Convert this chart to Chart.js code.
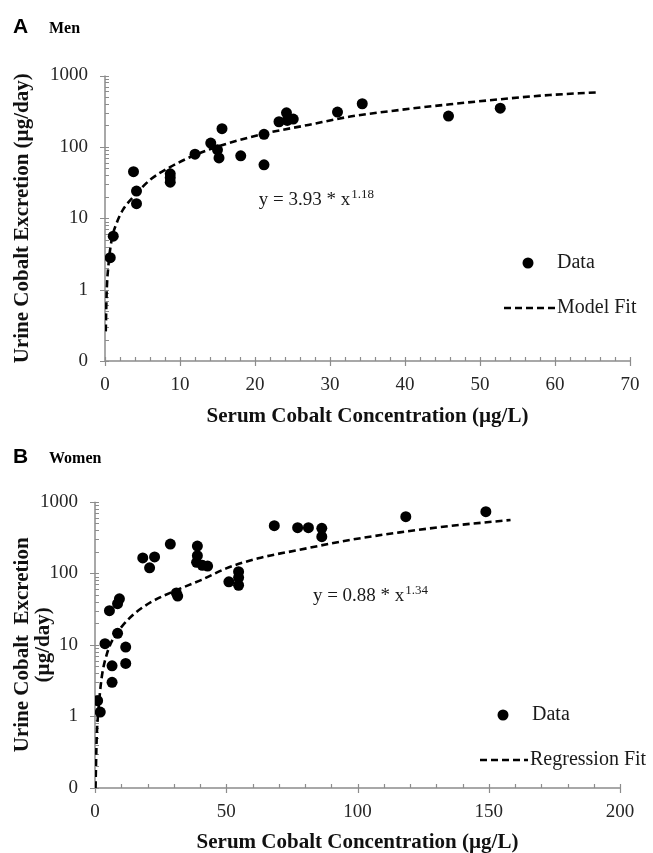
<!DOCTYPE html>
<html>
<head>
<meta charset="utf-8">
<script src="https://cdn.jsdelivr.net/npm/chart.js@4.4.0/dist/chart.umd.min.js"></script>
<style>
  html, body { margin: 0; padding: 0; background: #fff; }
  .panel { position: absolute; left: 0; width: 653px; }
  #panelA { top: 0; height: 430px; }
  #panelB { top: 430px; height: 426px; }
</style>
</head>
<body>
<div class="panel" id="panelA"><canvas id="chartA"></canvas></div>
<div class="panel" id="panelB"><canvas id="chartB"></canvas></div>
<script>
// values
const menX = [0.7, 1.1, 3.8, 4.2, 4.2, 8.7, 8.7, 8.7, 12.0, 14.1, 15.0, 15.2, 15.6, 18.1, 21.2, 21.2, 23.2, 24.2, 24.3, 25.1, 31.0, 34.3, 45.8, 52.7]
const menY = [2.8, 5.6, 45, 24, 16, 42, 37, 32, 79, 113, 91, 70, 180, 75, 56, 150, 225, 300, 235, 245, 307, 402, 270, 349]
const menFitX = [0.1, 0.22, 0.44, 0.89, 1.56, 2.4, 3.8, 6, 8.67, 12, 15.8, 21.1, 27.1, 32.7, 39.3, 46, 52.7, 59.3, 65.8]
const menFitY = [0.26, 0.9, 2.1, 5.0, 8.6, 13.2, 20, 34.5, 52, 77, 107, 152, 203, 266, 329, 395, 465, 533, 582]

const womenX = [1.0, 2.0, 3.8, 5.5, 6.5, 6.5, 8.6, 9.3, 8.6, 11.7, 11.7, 18.2, 20.8, 22.7, 28.7, 31.0, 31.5, 39.0, 39.0, 38.7, 40.9, 42.9, 51.0, 54.7, 54.7, 54.7, 68.3, 77.2, 81.3, 86.4, 86.4, 118.4, 148.9]
const womenY = [1.66, 1.15, 10.4, 30, 5.1, 3.0, 37.6, 44, 14.5, 9.3, 5.5, 164, 119, 169, 256, 53, 48, 240, 176, 142, 129, 126, 76, 105, 87, 68, 462, 434, 434, 425, 325, 618, 725]
const womenFitX = [0.2, 0.64, 1.27, 2.5, 4.4, 7, 10.2, 15.2, 21.6, 30.5, 40.6, 50, 62.2, 77.4, 97.1, 116.1, 135.2, 158.3]
const womenFitY = [0.1, 0.5, 1.17, 3.4, 7.2, 12.4, 18, 27.6, 40, 57, 81, 117, 162, 211, 292, 373, 458, 555]

const yTicks = [0.1, 1, 10, 100, 1000]
const yTickLabels = ['0', '1', '10', '100', '1000']
const menXMax = 70
const womenXMax = 200

const serif = '"Liberation Serif", "Times New Roman", serif'
const axisGrey = '#8c8c8c'

function pts(xs, ys) {
  return xs.map((x, i) => ({ x: x, y: ys[i] }))
}

// axis lines, tick marks, panel letter, equation and legend
const decorPlugin = {
  id: 'decor',
  beforeDatasetsDraw(chart, args, o) {
    const ctx = chart.ctx
    const a = chart.chartArea
    const xs = chart.scales.x
    const ys = chart.scales.y
    ctx.save()
    ctx.strokeStyle = axisGrey
    ctx.lineWidth = 1.5
    ctx.beginPath()
    ctx.moveTo(a.left, a.top)
    ctx.lineTo(a.left, a.bottom)
    ctx.lineTo(a.right, a.bottom)
    ctx.stroke()

    ctx.lineWidth = 1.2
    ctx.beginPath()
    const n = Math.round(xs.max / o.minorX)
    for (let i = 0; i <= n; i++) {
      const v = i * o.minorX
      const px = Math.round(xs.getPixelForValue(v)) + 0.5
      const major = i % Math.round(o.majorX / o.minorX) === 0
      ctx.moveTo(px, a.bottom + (major ? 5 : 0))
      ctx.lineTo(px, a.bottom - 4)
    }
    for (let d = -1; d <= 3; d++) {
      for (let m = 1; m <= 9; m++) {
        const v = m * Math.pow(10, d)
        if (v > ys.max * 1.0001) break
        const py = Math.round(ys.getPixelForValue(v)) + 0.5
        ctx.moveTo(a.left - (m === 1 ? 5 : 0), py)
        ctx.lineTo(a.left + 4, py)
      }
    }
    ctx.stroke()
    ctx.restore()
  },
  afterDraw(chart, args, o) {
    const ctx = chart.ctx
    const xs = chart.scales.x
    const ys = chart.scales.y
    const dots = chart.data.datasets[0]
    const fit = chart.data.datasets[1]
    ctx.save()
    ctx.fillStyle = '#000'
    ctx.textBaseline = 'alphabetic'
    ctx.font = 'bold 21px "Liberation Sans", Arial, sans-serif'
    ctx.fillText(o.letter, 13, 33)
    ctx.font = 'bold 16px ' + serif
    ctx.fillText(o.group, 49, 33)

    // equation
    ctx.fillStyle = '#1a1a1a'
    const ex = xs.getPixelForValue(o.eqAt[0])
    const ey = ys.getPixelForValue(o.eqAt[1])
    ctx.font = '19px ' + serif
    ctx.fillText(o.eqMain, ex, ey)
    const w = ctx.measureText(o.eqMain).width
    ctx.font = '13px ' + serif
    ctx.fillText(o.eqExp, ex + w + 1, ey - 7)

    // legend
    const L = o.legend
    ctx.beginPath()
    ctx.arc(L.dot[0], L.dot[1], dots.pointRadius, 0, Math.PI * 2)
    ctx.fillStyle = dots.backgroundColor
    ctx.fill()
    ctx.strokeStyle = fit.borderColor
    ctx.lineWidth = fit.borderWidth
    ctx.setLineDash(fit.borderDash)
    ctx.beginPath()
    ctx.moveTo(L.line[0], L.line[2])
    ctx.lineTo(L.line[1], L.line[2])
    ctx.stroke()
    ctx.setLineDash([])
    ctx.fillStyle = '#1a1a1a'
    ctx.font = '20px ' + serif
    ctx.textBaseline = 'middle'
    ctx.fillText(dots.label, L.text[0], L.dot[1])
    ctx.fillText(fit.label, L.text[1], L.line[2])
    ctx.restore()
  }
}

function makeChart(id, opts) {
  return new Chart(document.getElementById(id), {
    type: 'scatter',
    data: {
      datasets: [{
        label: 'Data',
        data: pts(opts.x, opts.y),
        backgroundColor: '#000',
        borderColor: '#000',
        pointRadius: 5.5,
        pointHoverRadius: 5.5,
        borderWidth: 0,
        order: 1
      }, {
        label: opts.fitLabel,
        data: pts(opts.fitX, opts.fitY),
        showLine: true,
        borderColor: '#000',
        backgroundColor: '#000',
        borderWidth: 2.6,
        borderDash: [7, 4],
        pointRadius: 0,
        cubicInterpolationMode: 'monotone',
        order: 2
      }]
    },
    options: {
      responsive: true,
      maintainAspectRatio: false,
      animation: false,
      devicePixelRatio: 1,
      layout: { padding: opts.padding },
      plugins: {
        legend: { display: false },
        tooltip: { enabled: false },
        decor: opts.decor
      },
      scales: {
        x: {
          type: 'linear',
          min: 0,
          max: opts.xMax,
          grid: { display: false, drawTicks: false },
          border: { display: false },
          ticks: { stepSize: opts.xStep, color: '#262626', font: { family: serif, size: 19 }, padding: 13, maxRotation: 0 },
          title: {
            display: true,
            text: 'Serum Cobalt Concentration (µg/L)',
            color: '#111',
            font: { family: serif, size: 21, weight: 'bold', lineHeight: 1 },
            padding: { top: 0, bottom: opts.xTitlePad }
          },
          afterFit: s => { s.height = opts.xBoxH }
        },
        y: {
          type: 'logarithmic',
          min: 0.1,
          max: 1000,
          grid: { display: false, drawTicks: false },
          border: { display: false },
          afterBuildTicks: s => { s.ticks = yTicks.map(v => ({ value: v })) },
          ticks: {
            autoSkip: false,
            color: '#262626',
            font: { family: serif, size: 19 },
            padding: 17,
            callback: (v, i) => yTickLabels[i]
          },
          title: {
            display: true,
            text: opts.yTitle,
            color: '#111',
            font: { family: serif, size: 21, weight: 'bold', lineHeight: 1 },
            padding: { top: 12, bottom: 0 }
          },
          afterFit: s => { s.width = opts.yBoxW }
        }
      }
    },
    plugins: [decorPlugin]
  })
}

const chartMen = makeChart('chartA', {
  x: menX, y: menY, fitX: menFitX, fitY: menFitY,
  fitLabel: 'Model Fit',
  xMax: menXMax, xStep: 10,
  yTitle: 'Urine Cobalt Excretion (µg/day)',
  padding: { top: 75.5, right: 23, left: 0, bottom: 0 },
  yBoxW: 105, xBoxH: 69, xTitlePad: 3,
  decor: {
    letter: 'A', group: 'Men', minorX: 2, majorX: 10,
    eqAt: [20.5, 15.5], eqMain: 'y = 3.93 * x', eqExp: '1.18',
    legend: { dot: [528, 263], line: [504, 555, 308], text: [557, 557] }
  }
})

const chartWomen = makeChart('chartB', {
  x: womenX, y: womenY, fitX: womenFitX, fitY: womenFitY,
  fitLabel: 'Regression Fit',
  xMax: womenXMax, xStep: 50,
  yTitle: ['Urine Cobalt  Excretion', '(µg/day)'],
  padding: { top: 71.7, right: 33, left: 0, bottom: 0 },
  yBoxW: 95, xBoxH: 68, xTitlePad: 3,
  decor: {
    letter: 'B', group: 'Women', minorX: 10, majorX: 50,
    eqAt: [83, 41], eqMain: 'y = 0.88 * x', eqExp: '1.34',
    legend: { dot: [503, 285], line: [480, 528, 330], text: [532, 530] }
  }
})
</script>
</body>
</html>
